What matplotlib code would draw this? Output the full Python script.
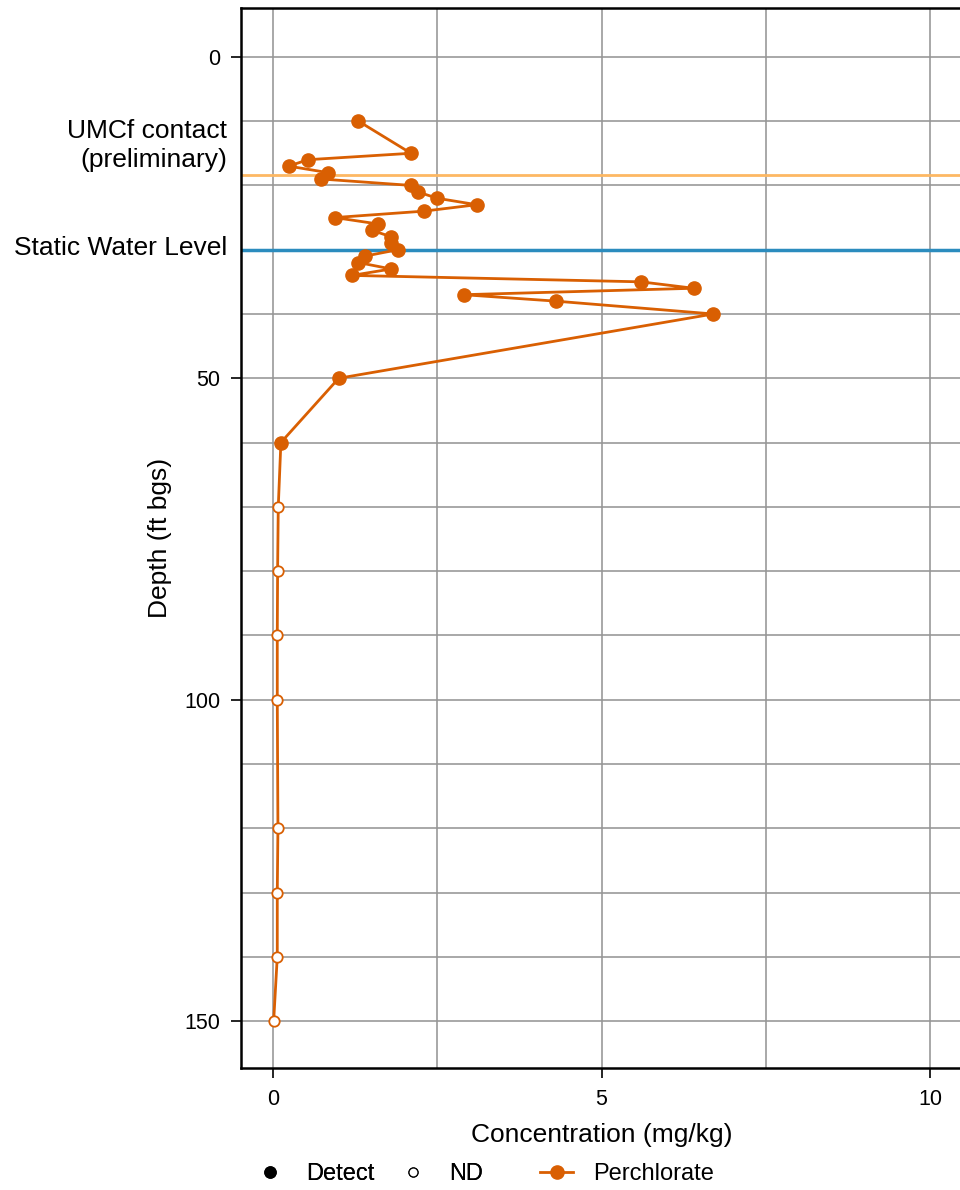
import matplotlib
matplotlib.use("Agg")
import matplotlib.pyplot as plt
from matplotlib.lines import Line2D
from matplotlib.ticker import MultipleLocator
import matplotlib.transforms as mtransforms

plt.rcParams['font.family'] = ['Liberation Sans', 'DejaVu Sans']

# Perchlorate soil profile: detected results
detect_depth = [10, 15, 16, 17, 18, 19, 20, 21, 22, 23, 24, 25, 26, 27, 28, 29,
                30, 31, 32, 33, 34, 35, 36, 37, 38, 40, 50, 60]
detect_conc = [1.30, 2.10, 0.53, 0.24, 0.83, 0.73, 2.10, 2.20, 2.50, 3.10, 2.30,
               0.94, 1.60, 1.51, 1.80, 1.80, 1.90, 1.40, 1.30, 1.80, 1.20, 5.60,
               6.40, 2.90, 4.30, 6.70, 1.00, 0.12]

# Non-detects (plotted at reporting limit)
nd_depth = [70, 80, 90, 100, 120, 130, 140, 150]
nd_conc = [0.08, 0.07, 0.065, 0.065, 0.075, 0.065, 0.065, 0.01]

umcf_contact_depth = 18.4
static_water_level = 30

analyte = "Perchlorate"
c_line = "#D95F02"
c_umcf = "#FDB863"
c_swl = "#2B8CBE"

# full profile, ordered by depth
profile = sorted(zip(detect_depth + nd_depth, detect_conc + nd_conc))
prof_depth = [p[0] for p in profile]
prof_conc = [p[1] for p in profile]

fig = plt.figure(figsize=(9.6, 11.9), dpi=100)
W, H = 960, 1190
ax = fig.add_axes([241 / W, 1 - 1068 / H, (963 - 241) / W, (1068 - 8) / H])

ax.set_xlim(-0.487, 10.5)
ax.set_ylim(157.3, -7.6)

ax.xaxis.set_major_locator(MultipleLocator(5))
ax.xaxis.set_minor_locator(MultipleLocator(2.5))
ax.yaxis.set_major_locator(MultipleLocator(50))
ax.yaxis.set_minor_locator(MultipleLocator(10))
ax.grid(True, which='both', color='#959595', linewidth=1.15, zorder=0)
ax.set_axisbelow(True)

ax.tick_params(which='major', length=7, width=1.2, color='black',
               labelsize=15.5, direction='out')
ax.tick_params(axis='y', which='major', pad=8)
ax.tick_params(axis='x', which='major', pad=8)
ax.tick_params(which='minor', length=0)

for side in ['left', 'bottom', 'top']:
    ax.spines[side].set_linewidth(1.8)
    ax.spines[side].set_color('black')
ax.spines['right'].set_visible(False)

ax.axhline(umcf_contact_depth, color=c_umcf, linewidth=2, zorder=1)
ax.axhline(static_water_level, color=c_swl, linewidth=2.5, zorder=1)

ax.plot(prof_conc, prof_depth, color=c_line, linewidth=2.0, zorder=3)
ax.plot(detect_conc, detect_depth, linestyle='none', marker='o',
        markersize=9.5, color=c_line, zorder=4)
ax.plot(nd_conc, nd_depth, linestyle='none', marker='o', markersize=7.5,
        markerfacecolor='white', markeredgecolor=c_line,
        markeredgewidth=1.3, zorder=4)

# labels for the reference horizons, placed left of the axis
trans = mtransforms.blended_transform_factory(ax.transAxes, ax.transData)
x_lab = -(241 - 227) / (963 - 241)
ax.text(x_lab, umcf_contact_depth - 4.6, "UMCf contact\n(preliminary)",
        transform=trans, ha='right', va='center', fontsize=19,
        linespacing=1.25, clip_on=False)
ax.text(x_lab, static_water_level - 0.3, "Static Water Level",
        transform=trans, ha='right', va='center', fontsize=19, clip_on=False)

fig.text(160 / W, 1 - 538 / H, "Depth (ft bgs)", rotation=90,
         ha='center', va='center', fontsize=19)
fig.text(602 / W, 1 - 1135 / H, "Concentration (mg/kg)",
         ha='center', va='center', fontsize=19)

# legends: symbol type and analyte
shape_handles = [
    Line2D([], [], linestyle='none', marker='o', markersize=8, color='black'),
    Line2D([], [], linestyle='none', marker='o', markersize=6.5,
           markerfacecolor='white', markeredgecolor='black', markeredgewidth=0.9),
]
leg1 = fig.legend(shape_handles, ["Detect", "ND"], ncol=2, frameon=False,
                  loc='center left', bbox_to_anchor=(253 / W, 1 - 1174 / H),
                  fontsize=17, handlelength=1.4, handletextpad=0.85,
                  columnspacing=0.93, borderpad=0, borderaxespad=0)
line_handle = [Line2D([], [], color=c_line, linewidth=2.0, marker='o',
                      markersize=9.5)]
leg2 = fig.legend(line_handle, [analyte], frameon=False,
                  loc='center left', bbox_to_anchor=(540 / W, 1 - 1174 / H),
                  fontsize=17, handlelength=1.4, handletextpad=0.85,
                  borderpad=0, borderaxespad=0)
fig.add_artist(leg1)

fig.savefig("out.png", dpi=100)
